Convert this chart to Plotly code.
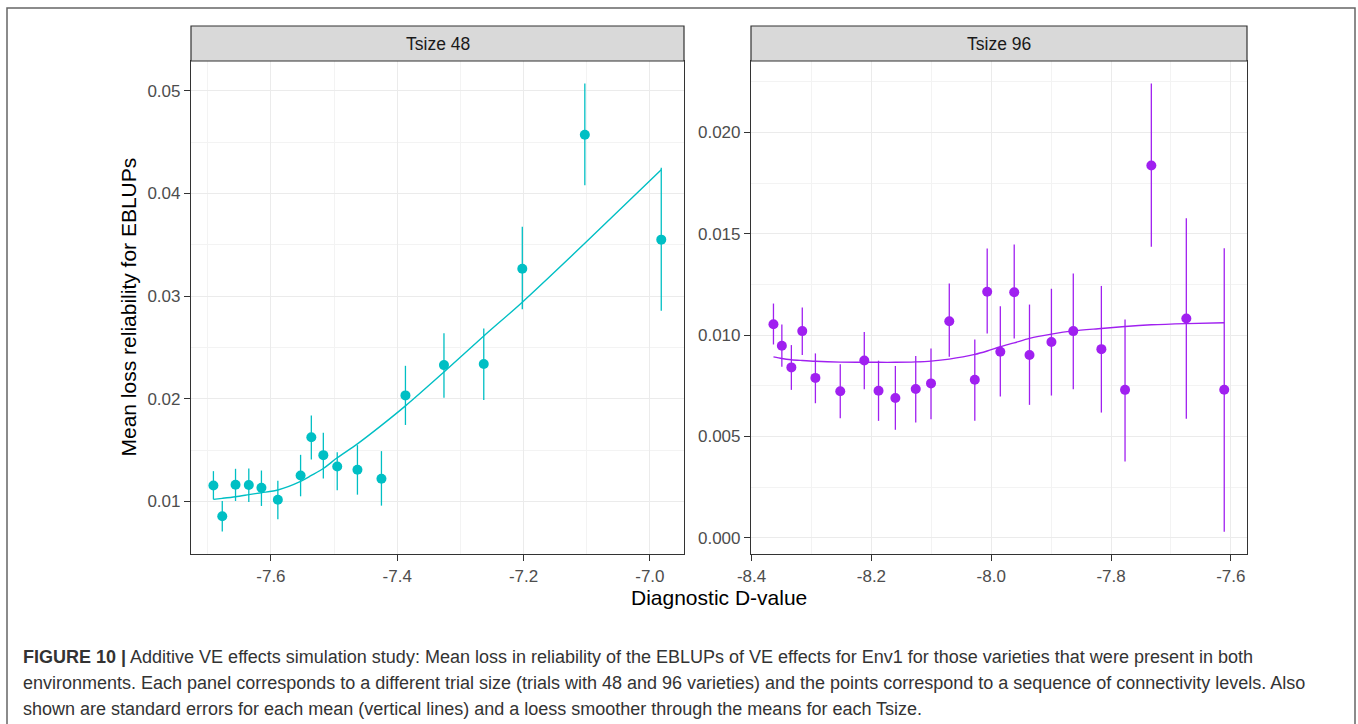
import plotly.graph_objects as go

W, H = 1358, 724

# ---- Tsize 48 ----
d48 = [-7.691, -7.677, -7.656, -7.635, -7.615, -7.589, -7.553, -7.536, -7.517,
       -7.495, -7.463, -7.425, -7.387, -7.326, -7.263, -7.202, -7.103, -6.982]
mean48 = [0.01155, 0.00854, 0.01162, 0.01159, 0.01133, 0.01016, 0.01252, 0.01625, 0.01450,
          0.01340, 0.01307, 0.01220, 0.02032, 0.02327, 0.02337, 0.03266, 0.04571, 0.03549]
lo48 = [0.01019, 0.00705, 0.01003, 0.00994, 0.00955, 0.00825, 0.01049, 0.01408, 0.01223,
        0.01107, 0.01065, 0.00958, 0.01744, 0.02010, 0.01987, 0.02871, 0.04078, 0.02857]
hi48 = [0.01294, 0.01003, 0.01317, 0.01320, 0.01300, 0.01200, 0.01453, 0.01835, 0.01667,
        0.01479, 0.01547, 0.01489, 0.02320, 0.02638, 0.02683, 0.03675, 0.05071, 0.04250]
smooth48 = [0.01019, 0.01029, 0.01045, 0.01065, 0.01084, 0.01110, 0.01194, 0.01252, 0.01320,
            0.01424, 0.01560, 0.01740, 0.01930, 0.02260, 0.02610, 0.02940, 0.03513, 0.04230]

# ---- Tsize 96 ----
d96 = [-8.3635, -8.3495, -8.3336, -8.3154, -8.2935, -8.2520, -8.2119, -8.1881, -8.1600,
       -8.1260, -8.1005, -8.0700, -8.0274, -8.0067, -7.9848, -7.9616, -7.9361, -7.8995,
       -7.8630, -7.8161, -7.7766, -7.7327, -7.6743, -7.6110]
mean96 = [0.01054, 0.00948, 0.00841, 0.01020, 0.00789, 0.00723, 0.00875, 0.00726, 0.00690,
          0.00734, 0.00762, 0.01069, 0.00780, 0.01214, 0.00918, 0.01212, 0.00902, 0.00966,
          0.01020, 0.00931, 0.00730, 0.01837, 0.01082, 0.00731]
lo96 = [0.00954, 0.00844, 0.00730, 0.00902, 0.00664, 0.00590, 0.00733, 0.00577, 0.00533,
        0.00569, 0.00585, 0.00893, 0.00577, 0.01008, 0.00697, 0.00984, 0.00656, 0.00702,
        0.00733, 0.00618, 0.00377, 0.01436, 0.00587, 0.00030]
hi96 = [0.01156, 0.01052, 0.00951, 0.01136, 0.00910, 0.00857, 0.01016, 0.00874, 0.00848,
        0.00897, 0.00934, 0.01255, 0.00979, 0.01428, 0.01143, 0.01447, 0.01151, 0.01229,
        0.01304, 0.01243, 0.01077, 0.02242, 0.01577, 0.01429]
smooth96 = [0.00893, 0.00885, 0.00879, 0.00875, 0.00871, 0.00867, 0.00866, 0.00866, 0.00866,
            0.00868, 0.00872, 0.00882, 0.00905, 0.00922, 0.00943, 0.00962, 0.00984, 0.01005,
            0.01021, 0.01033, 0.01043, 0.01051, 0.01057, 0.01061]

panels = ["Tsize 48", "Tsize 96"]
colors = ["#00BFC4", "#A020F0"]

x48_ticks = [-7.6, -7.4, -7.2, -7.0]
x48_labels = ["-7.6", "-7.4", "-7.2", "-7.0"]
y48_ticks = [0.01, 0.02, 0.03, 0.04, 0.05]
y48_labels = ["0.01", "0.02", "0.03", "0.04", "0.05"]
x96_ticks = [-8.4, -8.2, -8.0, -7.8, -7.6]
x96_labels = ["-8.4", "-8.2", "-8.0", "-7.8", "-7.6"]
y96_ticks = [0.000, 0.005, 0.010, 0.015, 0.020]
y96_labels = ["0.000", "0.005", "0.010", "0.015", "0.020"]

caption_lines = [
    "<b>FIGURE 10 |</b> Additive VE effects simulation study: Mean loss in reliability of the EBLUPs "
    "of VE effects for Env1 for those varieties that were present in both",
    "environments. Each panel corresponds to a different trial size (trials with 48 and 96 varieties) "
    "and the points correspond to a sequence of connectivity levels. Also",
    "shown are standard errors for each mean (vertical lines) and a loess smoother through the means "
    "for each Tsize.",
]

FONT = "Liberation Sans, Arial, sans-serif"


def px(x):
    return x / W


def py(y):
    return 1 - y / H


fig = go.Figure()

series = [
    (d48, mean48, lo48, hi48, smooth48, "x", "y"),
    (d96, mean96, lo96, hi96, smooth96, "x2", "y2"),
]
for (xs, m, lo, hi, sm, xa, ya), col in zip(series, colors):
    fig.add_trace(go.Scatter(
        x=xs, y=sm, mode="lines", xaxis=xa, yaxis=ya,
        line=dict(color=col, width=1.4, shape="spline", smoothing=0.8),
        hoverinfo="skip", showlegend=False,
    ))
    fig.add_trace(go.Scatter(
        x=xs, y=m, mode="markers", xaxis=xa, yaxis=ya,
        marker=dict(color=col, size=10),
        error_y=dict(type="data", symmetric=False,
                     array=[h - v for h, v in zip(hi, m)],
                     arrayminus=[v - l for v, l in zip(m, lo)],
                     color=col, thickness=1.3, width=0),
        showlegend=False,
    ))

# panel geometry (pixels)
left_dom = [191, 684]
right_dom = [751, 1247]
top, bottom = 61, 554
strip_top = 26

tick_font = dict(family=FONT, size=17, color="#4d4d4d")
common_axis = dict(
    automargin=False,
    showline=True, mirror=True, linecolor="#333333", linewidth=1.2,
    ticks="outside", ticklen=6, tickwidth=1.2, tickcolor="#333333",
    showgrid=True, gridcolor="#ebebeb", gridwidth=1.4, zeroline=False,
    tickfont=tick_font,
)
minor_style = dict(showgrid=True, gridcolor="#f3f3f3", gridwidth=1, ticks="")

fig.update_layout(
    width=W, height=H, autosize=False,
    margin=dict(l=0, r=0, t=0, b=0, pad=0, autoexpand=False),
    paper_bgcolor="white", plot_bgcolor="white",
    showlegend=False,
    xaxis=dict(domain=[px(left_dom[0]), px(left_dom[1])], range=[-7.7265, -6.946],
               anchor="y", tickvals=x48_ticks, ticktext=x48_labels,
               minor=dict(tickvals=[-7.7, -7.5, -7.3, -7.1], **minor_style),
               **common_axis),
    yaxis=dict(domain=[py(bottom), py(top)], range=[0.00487, 0.05289],
               anchor="x", tickvals=y48_ticks, ticktext=y48_labels,
               minor=dict(tickvals=[0.015, 0.025, 0.035, 0.045], **minor_style),
               **common_axis),
    xaxis2=dict(domain=[px(right_dom[0]), px(right_dom[1])], range=[-8.401, -7.573],
                anchor="y2", tickvals=x96_ticks, ticktext=x96_labels,
                minor=dict(tickvals=[-8.3, -8.1, -7.9, -7.7], **minor_style),
                **common_axis),
    yaxis2=dict(domain=[py(bottom), py(top)], range=[-0.0008, 0.02353],
                anchor="x2", tickvals=y96_ticks, ticktext=y96_labels,
                minor=dict(tickvals=[0.0025, 0.0075, 0.0125, 0.0175, 0.0225], **minor_style),
                **common_axis),
)

shapes = []
annotations = []
# facet strips
for (x0, x1), label in zip([left_dom, right_dom], panels):
    shapes.append(dict(type="rect", xref="paper", yref="paper",
                       x0=px(x0), x1=px(x1), y0=py(top), y1=py(strip_top),
                       fillcolor="#d9d9d9", line=dict(color="#333333", width=1.2), layer="above"))
    annotations.append(dict(text=label, xref="paper", yref="paper",
                            x=px((x0 + x1) / 2), y=py((strip_top + top) / 2),
                            xanchor="center", yanchor="middle", showarrow=False,
                            font=dict(family=FONT, size=17.5, color="#1a1a1a")))

# outer frame of the figure
shapes.append(dict(type="rect", xref="paper", yref="paper",
                   x0=px(7), x1=px(1355), y0=py(740), y1=py(8),
                   fillcolor="rgba(0,0,0,0)", line=dict(color="#666666", width=1.5)))

# axis titles
annotations.append(dict(text="Diagnostic D-value", xref="paper", yref="paper",
                        x=px((left_dom[0] + right_dom[1]) / 2), y=py(597),
                        xanchor="center", yanchor="middle", showarrow=False,
                        font=dict(family=FONT, size=21, color="black")))
annotations.append(dict(text="Mean loss reliability for EBLUPs", xref="paper", yref="paper",
                        x=px(128), y=py((top + bottom) / 2), textangle=-90,
                        xanchor="center", yanchor="middle", showarrow=False,
                        font=dict(family=FONT, size=21, color="black")))

# caption
for i, line in enumerate(caption_lines):
    annotations.append(dict(text=line, xref="paper", yref="paper",
                            x=px(21), y=py(657 + 26 * i),
                            xanchor="left", yanchor="middle", showarrow=False, align="left",
                            font=dict(family=FONT, size=18, color="#333333")))

fig.update_layout(shapes=shapes, annotations=annotations)
fig.write_html("out.html")
